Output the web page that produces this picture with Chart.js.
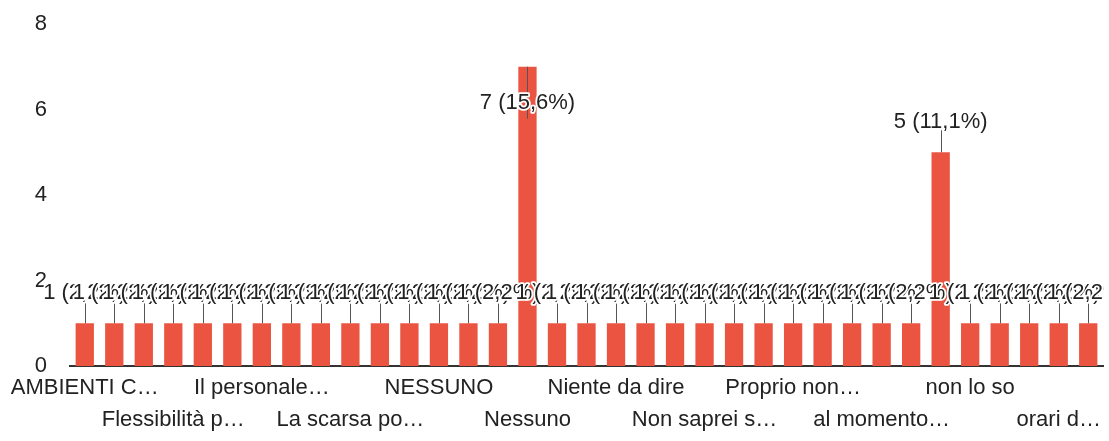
<!DOCTYPE html>
<html lang="it">
<head>
<meta charset="UTF-8">
<title>Risposte</title>
<script src="https://cdn.jsdelivr.net/npm/chart.js@4.4.0/dist/chart.umd.min.js"></script>
<style>
  html, body { margin: 0; padding: 0; background: #fff; }
  canvas { display: block; }
</style>
</head>
<body>
<canvas id="chart" width="1109" height="441"></canvas>
<script>
// the picture only names every third answer, the others stay empty
const categories = [
  'AMBIENTI C…', '', '', 'Flessibilità p…', '', '', 'Il personale…', '', '',
  'La scarsa po…', '', '', 'NESSUNO', '', '', 'Nessuno', '', '',
  'Niente da dire', '', '', 'Non saprei s…', '', '', 'Proprio non…', '', '',
  'al momento…', '', '', 'non lo so', '', '', 'orari d…', ''
];
const counts = [
  1, 1, 1, 1, 1, 1, 1, 1, 1, 1, 1, 1, 1, 1, 1, 7, 1, 1,
  1, 1, 1, 1, 1, 1, 1, 1, 1, 1, 1, 5, 1, 1, 1, 1, 1
];
const yTicks = [0, 2, 4, 6, 8];

const total = counts.reduce((a, b) => a + b, 0);
const FONT = '"Liberation Sans", Arial, sans-serif';

// google style annotations: "n (p%)" with a small stem down to the bar
const annotations = {
  id: 'annotations',
  afterDatasetsDraw(chart) {
    const ctx = chart.ctx;
    const area = chart.chartArea;
    const bars = chart.getDatasetMeta(0).data;
    const spots = bars.map((bar) => {
      if (bar.y - area.top < 60) {
        // no room on top, label goes inside the bar
        return { x: bar.x, ty: bar.y + 36, y1: bar.y, y2: bar.y + 52 };
      }
      return { x: bar.x, ty: bar.y - 30, y1: bar.y - 22, y2: bar.y };
    });

    ctx.save();
    ctx.beginPath();
    ctx.rect(0, 0, area.right + 1, chart.height);
    ctx.clip();

    ctx.strokeStyle = '#555';
    ctx.lineWidth = 1;
    spots.forEach((s) => {
      ctx.beginPath();
      ctx.moveTo(Math.round(s.x) + 0.5, s.y1);
      ctx.lineTo(Math.round(s.x) + 0.5, s.y2);
      ctx.stroke();
    });

    ctx.font = '22px ' + FONT;
    ctx.textAlign = 'center';
    ctx.textBaseline = 'middle';
    ctx.lineJoin = 'round';
    spots.forEach((s, i) => {
      const v = counts[i];
      const pct = (v / total * 100).toFixed(1).replace('.', ',');
      const text = v + ' (' + pct + '%)';
      ctx.strokeStyle = '#fff';
      ctx.lineWidth = 3.5;
      ctx.strokeText(text, s.x, s.ty);
      ctx.fillStyle = '#222';
      ctx.fillText(text, s.x, s.ty);
    });
    ctx.restore();
  }
};

const ctx = document.getElementById('chart').getContext('2d');
new Chart(ctx, {
  type: 'bar',
  data: {
    labels: categories,
    datasets: [{
      data: counts,
      backgroundColor: '#ea5441',
      barPercentage: 0.62,
      categoryPercentage: 1.0
    }]
  },
  options: {
    responsive: false,
    animation: false,
    layout: { padding: { top: 24, right: 6, left: 0, bottom: 0 } },
    plugins: {
      legend: { display: false },
      tooltip: { enabled: false }
    },
    scales: {
      x: {
        grid: { drawOnChartArea: false, drawTicks: false },
        border: { display: true, color: '#333', width: 2 },
        ticks: {
          autoSkip: false,
          minRotation: 0,
          maxRotation: 0,
          padding: 6,
          color: '#222',
          font: { family: FONT, size: 22, lineHeight: '32px' },
          callback: function (value, index) {
            const label = categories[index];
            if (!label) return '';
            // labels alternate between two rows
            return (index / 3) % 2 === 0 ? label : ['', label];
          }
        },
        afterFit: (scale) => { scale.height = 75; }
      },
      y: {
        min: 0,
        max: yTicks[yTicks.length - 1],
        grid: { display: false },
        border: { display: false },
        afterBuildTicks: (scale) => { scale.ticks = yTicks.map((v) => ({ value: v })); },
        ticks: {
          padding: 15,
          color: '#222',
          font: { family: FONT, size: 22 }
        },
        afterFit: (scale) => {
          scale.width = 70;
          scale.paddingTop = 0;
          scale.paddingBottom = 0;
        }
      }
    }
  },
  plugins: [annotations]
});
</script>
</body>
</html>
